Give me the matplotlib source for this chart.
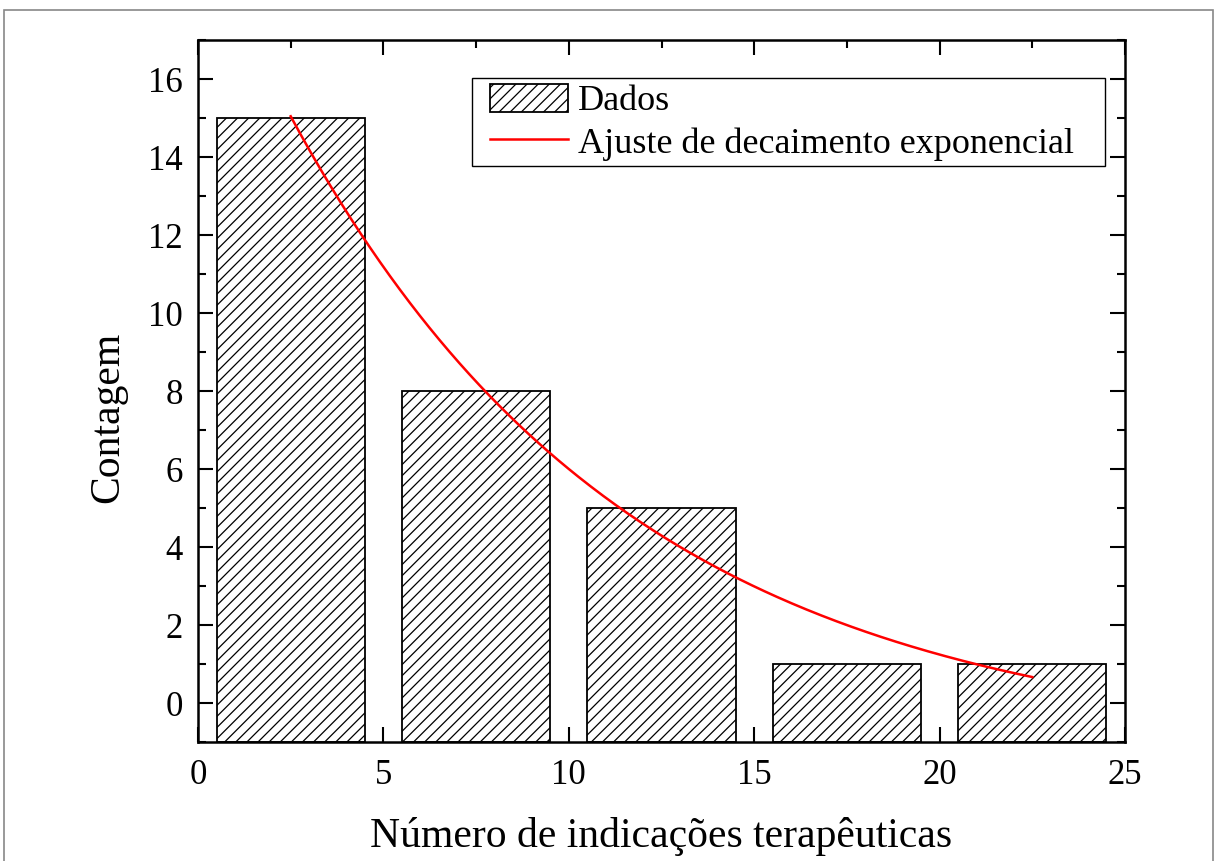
import numpy as np
import matplotlib
matplotlib.use("Agg")
import matplotlib.pyplot as plt
from matplotlib.ticker import MultipleLocator
from matplotlib.patches import Rectangle

# ---- data ----
bin_centers = [2.5, 7.5, 12.5, 17.5, 22.5]
counts = [15, 8, 5, 1, 1]
bin_width = 4
# exponential decay fit parameters y = y0 + A*exp(-x/t)
fit_y0 = -1.18
fit_A = 21.29
fit_t = 9.2
fit_x_range = (2.5, 22.5)

xlim = (0, 25)
ylim = (-1, 17)
xticks = [0, 5, 10, 15, 20, 25]
yticks = [0, 2, 4, 6, 8, 10, 12, 14, 16]

plt.rcParams['font.family'] = ['Liberation Serif', 'DejaVu Serif']
plt.rcParams['hatch.linewidth'] = 0.9
plt.rcParams['hatch.color'] = '#333333'

W, H = 1216, 861
fig = plt.figure(figsize=(W/100, H/100), dpi=100)
ax_l, ax_r, ax_t, ax_b = 198, 1125, 40, 742
ax = fig.add_axes([ax_l/W, 1-ax_b/H, (ax_r-ax_l)/W, (ax_b-ax_t)/H])
aw, ah = ax_r-ax_l, ax_b-ax_t

bars = ax.bar(bin_centers, [c - ylim[0] for c in counts], width=bin_width, bottom=ylim[0],
              facecolor='white', edgecolor='black', linewidth=1.3, hatch='///',
              label='Dados', zorder=2)

xf = np.linspace(fit_x_range[0], fit_x_range[1], 300)
yf = fit_y0 + fit_A * np.exp(-xf / fit_t)
line, = ax.plot(xf, yf, color='red', linewidth=1.8,
                label='Ajuste de decaimento exponencial', zorder=3)

ax.set_xlim(*xlim)
ax.set_ylim(*ylim)
ax.set_xticks(xticks)
ax.set_yticks(yticks)
ax.xaxis.set_minor_locator(MultipleLocator(2.5))
ax.yaxis.set_minor_locator(MultipleLocator(1))
ax.tick_params(which='both', direction='in', top=True, right=True, width=1.5)
ax.tick_params(which='major', length=11, labelsize=25)
ax.tick_params(which='minor', length=6)
ax.tick_params(axis='y', which='major', pad=11)
ax.tick_params(axis='x', which='major', pad=12)
for s in ax.spines.values():
    s.set_linewidth(1.8)

ax.set_xlabel('Número de indicações terapêuticas', fontsize=30, labelpad=18)
ax.set_ylabel('Contagem', fontsize=30)
ax.yaxis.set_label_coords((127-ax_l)/aw, (ax_b-417)/ah)

fs_leg = 26
em = fs_leg * 100 / 72
bp = 0.15
leg = ax.legend([bars, line], ['Dados', 'Ajuste de decaimento exponencial'],
                loc='upper left',
                bbox_to_anchor=((490 - bp*em - ax_l)/aw, (ax_b - 84 + bp*em)/ah),
                fontsize=fs_leg, frameon=False,
                handlelength=2.15, handleheight=0.8, handletextpad=0.28,
                borderpad=bp, labelspacing=0.22, borderaxespad=0)

# legend frame
ax.add_patch(Rectangle(((472-ax_l)/aw, (ax_b-166)/ah), (1105-472)/aw, (166-78)/ah,
                       transform=ax.transAxes, fill=False, edgecolor='black',
                       linewidth=1.0, zorder=5))

# outer grey border
fig.patches.append(Rectangle((4/W, -0.05), (1213-4)/W, 1.05 - 10/H,
                             transform=fig.transFigure, fill=False,
                             edgecolor='#888888', linewidth=1.2))

fig.savefig('out.png', dpi=100)
